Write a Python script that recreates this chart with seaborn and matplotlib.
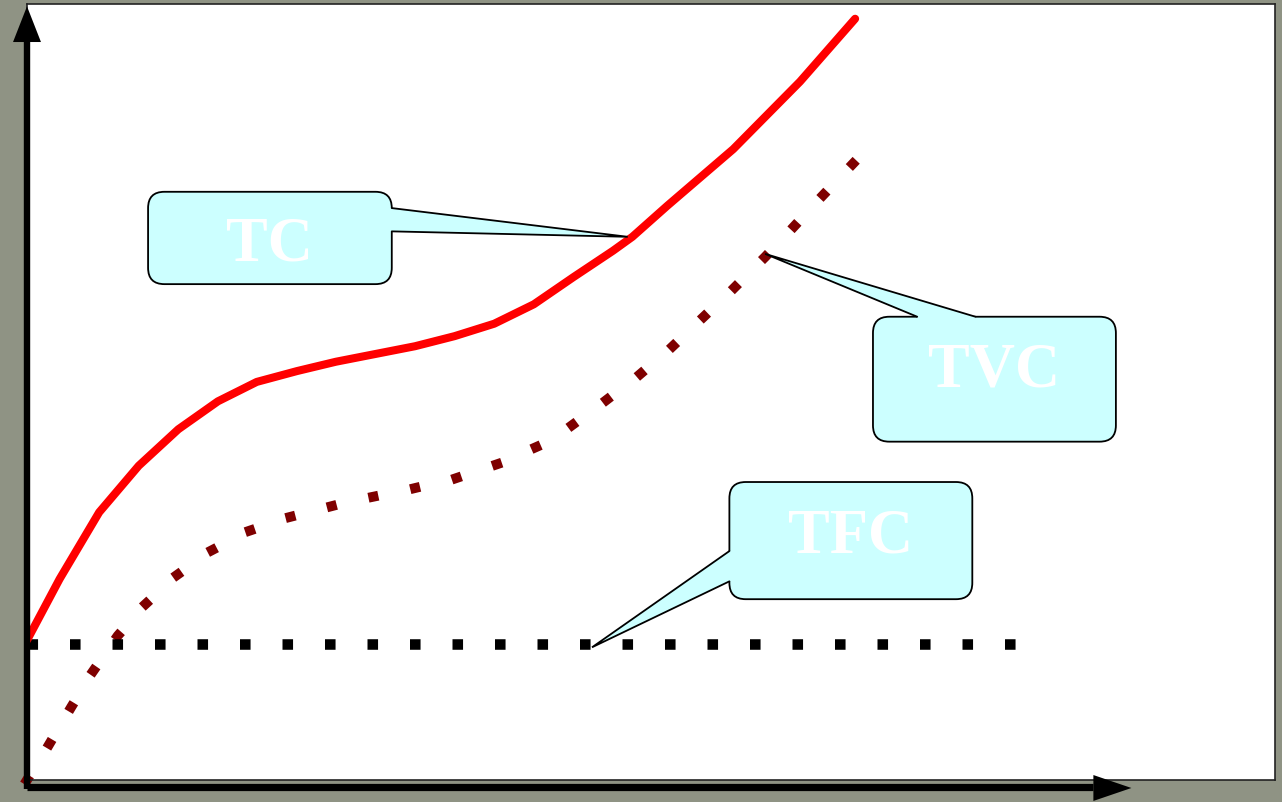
import matplotlib.pyplot as plt
import numpy as np
import pandas as pd
import seaborn as sns
from matplotlib.patches import FancyBboxPatch, Polygon

# values (1 unit = same length on both axes)
tc_q = [0.0, 4.2, 9.3, 14.4, 19.5, 24.6, 29.6, 34.8, 39.8, 44.9, 50.0, 55.1,
        60.2, 65.3, 70.4, 75.5, 78.0, 82.5, 91.0, 99.6, 106.7]
tc_cost = [18.0, 25.9, 34.5, 40.5, 45.2, 48.8, 51.3, 52.7, 53.9, 54.9, 55.9, 57.2,
           58.8, 61.3, 64.8, 68.2, 70.0, 74.0, 81.3, 90.0, 98.1]

tvc_q = [0.0, 2.8, 5.7, 8.5, 11.7, 15.3, 19.3, 23.8, 28.6, 33.9, 39.3, 44.6, 49.9,
         55.3, 60.6, 65.6, 70.2, 74.7, 79.0, 83.2, 87.2, 91.2, 95.1, 98.8, 102.6, 106.4]
tvc_cost = [0.0, 4.5, 9.4, 14.0, 18.6, 22.7, 26.4, 29.6, 32.1, 33.9, 35.3, 36.5, 37.6,
            38.9, 40.7, 42.9, 45.7, 49.0, 52.3, 55.9, 59.7, 63.5, 67.4, 71.3, 75.4, 79.4]

tfc_q = [0.0, 128.0]
tfc_cost = [17.5, 17.5]

labels = ["TC", "TVC", "TFC"]

sns.set_style("white")

DPI = 100
fig = plt.figure(figsize=(12.82, 8.03), dpi=DPI, facecolor="#8f9384")
ax = fig.add_axes([27 / 1282, 22 / 803, 1248 / 1282, 776 / 803])
ax.set_facecolor("white")
ax.set_xlim(0, 160.8)
ax.set_ylim(0, 100)
ax.set_xticks([])
ax.set_yticks([])
for s in ax.spines.values():
    s.set_color("#222222")
    s.set_linewidth(1.2)

# the dotted TVC has one square dot on each read point: dash period = mean spacing,
# tiny dashes with projecting caps so the end dots stay whole
pts = ax.transData.transform(np.column_stack([tvc_q, tvc_cost]))
step_px = np.hypot(*np.diff(pts, axis=0).T).mean()
tvc_lw = 7.1
tvc_period = step_px * 72 / DPI / tvc_lw
tfc_lw = 7.6
tfc_period = 42.5 * 72 / DPI / tfc_lw

# curves
sns.lineplot(x=tc_q, y=tc_cost, ax=ax, color="#ff0000", linewidth=5.8,
             solid_joinstyle="round", sort=False, estimator=None, zorder=3)
sns.lineplot(x=tvc_q, y=tvc_cost, ax=ax, color="#7f0000", linewidth=tvc_lw,
             linestyle=(0.01, (0.02, tvc_period - 0.02)), dash_capstyle="projecting",
             sort=False, estimator=None, zorder=2, clip_on=False)
sns.lineplot(x=tfc_q, y=tfc_cost, ax=ax, color="black", linewidth=tfc_lw,
             linestyle=(0, (1, tfc_period - 1)), dash_capstyle="butt",
             sort=False, estimator=None, zorder=2)

# axis arrows
ax.plot([0, 137.4], [-0.9, -0.9], color="black", lw=5.2, clip_on=False, zorder=6,
        solid_capstyle="butt")
ax.add_patch(Polygon([(137.4, 0.64), (137.4, -2.7), (142.3, -1.03)], closed=True,
                     fc="black", ec="none", clip_on=False, zorder=6))
ax.plot([0, 0], [-1.2, 95.5], color="black", lw=4.6, clip_on=False, zorder=6,
        solid_capstyle="butt")
ax.add_patch(Polygon([(-1.8, 95.1), (1.8, 95.1), (0, 99.7)], closed=True,
                     fc="black", ec="none", clip_on=False, zorder=6))


def callout(box, base1, base2, inner1, inner2, tip, text, text_xy):
    x0, y0, x1, y1 = box
    ax.add_patch(FancyBboxPatch((x0, y0), x1 - x0, y1 - y0,
                                boxstyle="round,pad=0,rounding_size=2.1",
                                fc="#ccffff", ec="black", lw=1.3, zorder=7))
    ax.add_patch(Polygon([inner1, base1, tip, base2, inner2], closed=True,
                         fc="#ccffff", ec="none", zorder=8))
    ax.plot([base1[0], tip[0], base2[0]], [base1[1], tip[1], base2[1]],
            color="black", lw=1.3, zorder=9, solid_joinstyle="miter")
    ax.text(text_xy[0], text_xy[1], text, ha="center", va="baseline",
            color="white", fontsize=45, fontweight="bold",
            family=["Liberation Serif", "DejaVu Serif"], zorder=10)


callout((15.6, 63.9, 47.0, 75.8), (47.0, 73.7), (47.0, 70.7),
        (45.8, 73.7), (45.8, 70.7), (77.4, 70.0), labels[0], (31.3, 67.1))
callout((109.0, 43.6, 140.3, 59.7), (114.7, 59.7), (122.2, 59.7),
        (114.7, 58.5), (122.2, 58.5), (95.1, 67.8), labels[1], (124.6, 50.8))
callout((90.5, 23.3, 121.8, 38.4), (90.5, 29.5), (90.5, 25.6),
        (91.7, 29.5), (91.7, 25.6), (72.8, 17.1), labels[2], (106.1, 29.5))

fig.savefig("out.png", dpi=DPI, facecolor=fig.get_facecolor())
